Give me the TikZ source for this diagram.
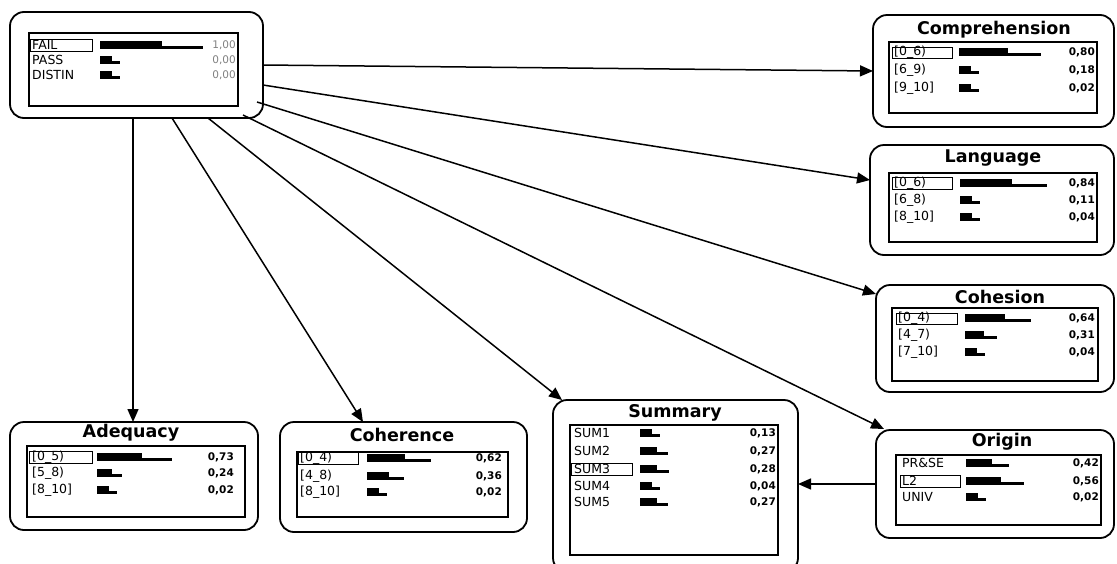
\documentclass[tikz,border=0pt]{standalone}
\usepackage{fontspec}
\setmainfont{DejaVu Sans}
\usepackage{tikz}
\usetikzlibrary{arrows.meta}

\tikzset{
  card/.style={draw, line width=1.8pt, rounded corners=14pt, inner sep=0pt, outer sep=0pt},
  panel/.style={draw, line width=1.6pt},
  pick/.style={draw, line width=0.9pt},
  link/.style={line width=1.5pt, -{Triangle[length=13pt,width=11pt]}},
  title/.style={font=\bfseries\fontsize{17.5}{18}\selectfont, inner sep=0pt},
  state/.style={anchor=west, font=\fontsize{12.5}{12.5}\selectfont, inner sep=0pt},
  prob/.style={anchor=east, font=\bfseries\fontsize{10.5}{10.5}\selectfont, inner sep=0pt}
}

% probability bar: x, y, p
\newcommand{\pbar}[3]{%
  \pgfmathsetmacro\barlen{max(20,103*#3)}
  \fill (#1,{#2-4}) rectangle ({#1+0.6*\barlen},{#2+4});
  \fill (#1,{#2+0.5}) rectangle ({#1+\barlen},{#2+4});
}
% rows of one card: name, label x, bar x, value x, rows
\newcommand{\staterows}[5]{%
  \foreach \y/\lab/\p/\v [count=\k] in {#5}{
    \node[state] (#1-s\k) at (#2,\y) {\lab};
    \pbar{#3}{\y}{\p}
    \node[prob] (#1-v\k) at (#4,\y) {\v};
  }}

\begin{document}
\begin{tikzpicture}[x=1pt, y=-1pt]
  \path[use as bounding box, clip] (0,0) rectangle (1117,563);

  % cards
  \node[card, minimum width=253pt, minimum height=106pt] (root) at (136.5,65) {};
  \node[card, minimum width=241pt, minimum height=112pt] (comp) at (993.5,71) {};
  \node[card, minimum width=244pt, minimum height=110pt] (lang) at (992,200) {};
  \node[card, minimum width=238pt, minimum height=107pt] (cohe) at (995,338.5) {};
  \node[card, minimum width=238pt, minimum height=108pt] (orig) at (995,484) {};
  \node[card, minimum width=245pt, minimum height=172pt] (summ) at (675.5,486) {};
  \node[card, minimum width=247pt, minimum height=110pt] (coher) at (403.5,477) {};
  \node[card, minimum width=248pt, minimum height=108pt] (adeq) at (134,476) {};

  % titles
  \node[title] (comp-t) at (994,30) {Comprehension};
  \node[title] (lang-t) at (993,158) {Language};
  \node[title] (cohe-t) at (1000,297) {Cohesion};
  \node[title] (orig-t) at (1002,442) {Origin};
  \node[title] (summ-t) at (675,413) {Summary};
  \node[title] (coher-t) at (402,435) {Coherence};
  \node[title] (adeq-t) at (131,433) {Adequacy};

  % inner panels
  \draw[panel] (29,33) rectangle (238,106);
  \draw[panel] (889,42) rectangle (1097,113);
  \draw[panel] (889,173) rectangle (1097,242);
  \draw[panel] (892,308) rectangle (1098,381);
  \draw[panel] (896,455) rectangle (1101,525);
  \draw[panel] (570,425) rectangle (778,555);
  \draw[panel] (297,452) rectangle (508,517);
  \draw[panel] (27,446) rectangle (245,517);

  % selected states
  \draw[pick] (30,39) rectangle (92,51);
  \draw[pick] (892,47) rectangle (952,58);
  \draw[pick] (892,177) rectangle (952,189);
  \draw[pick] (896,313) rectangle (957,324);
  \draw[pick] (900,475) rectangle (960,487);
  \draw[pick] (571,463) rectangle (632,475);
  \draw[pick] (298,452) rectangle (358,464);
  \draw[pick] (29,451) rectangle (92,463);

  % states
  \begin{scope}[prob/.append style={font=\fontsize{10.5}{10.5}\selectfont, text=gray}]
    \staterows{root}{32}{100}{236}{45/FAIL/1.00/{1,00}, 60/PASS/0.00/{0,00}, 75/DISTIN/0.00/{0,00}}
  \end{scope}
  \staterows{comp}{894}{959}{1095}{52/{[0\_6)}/0.80/{0,80}, 70/{[6\_9)}/0.18/{0,18}, 88/{[9\_10]}/0.02/{0,02}}
  \staterows{lang}{894}{960}{1095}{183/{[0\_6)}/0.84/{0,84}, 200/{[6\_8)}/0.11/{0,11}, 217/{[8\_10]}/0.04/{0,04}}
  \staterows{cohe}{898}{965}{1095}{318/{[0\_4)}/0.64/{0,64}, 335/{[4\_7)}/0.31/{0,31}, 352/{[7\_10]}/0.04/{0,04}}
  \staterows{orig}{902}{966}{1099}{463/{PR\&SE}/0.42/{0,42}, 481/L2/0.56/{0,56}, 497/UNIV/0.02/{0,02}}
  \staterows{summ}{574}{640}{776}{433/SUM1/0.13/{0,13}, 451/SUM2/0.27/{0,27}, 469/SUM3/0.28/{0,28}, 486/SUM4/0.04/{0,04}, 502/SUM5/0.27/{0,27}}
  \staterows{coher}{300}{367}{502}{458/{[0\_4)}/0.62/{0,62}, 476/{[4\_8)}/0.36/{0,36}, 492/{[8\_10]}/0.02/{0,02}}
  \staterows{adeq}{32}{97}{234}{457/{[0\_5)}/0.73/{0,73}, 473/{[5\_8)}/0.24/{0,24}, 490/{[8\_10]}/0.02/{0,02}}

  % links
  \draw[link] (root.east) -- (comp.west);
  \draw[link] ([yshift=-20pt]root.east) -- ([yshift=20pt]lang.west);
  \draw[link] ([xshift=-6pt,yshift=16pt]root.south east) -- ([yshift=-9pt]cohe.north west);
  \draw[link] ([xshift=-20pt,yshift=3pt]root.south east) -- ([xshift=8pt,yshift=1pt]orig.north west);
  \draw[link] ([xshift=-55pt]root.south east) -- ([xshift=9pt]summ.north west);
  \draw[link] ([xshift=-91pt]root.south east) -- ([xshift=83pt]coher.north west);
  \draw[link] ([xshift=123pt]root.south west) -- ([xshift=123pt]adeq.north west);
  \draw[link] (orig.west) -- (orig.west -| summ.east);
\end{tikzpicture}
\end{document}
